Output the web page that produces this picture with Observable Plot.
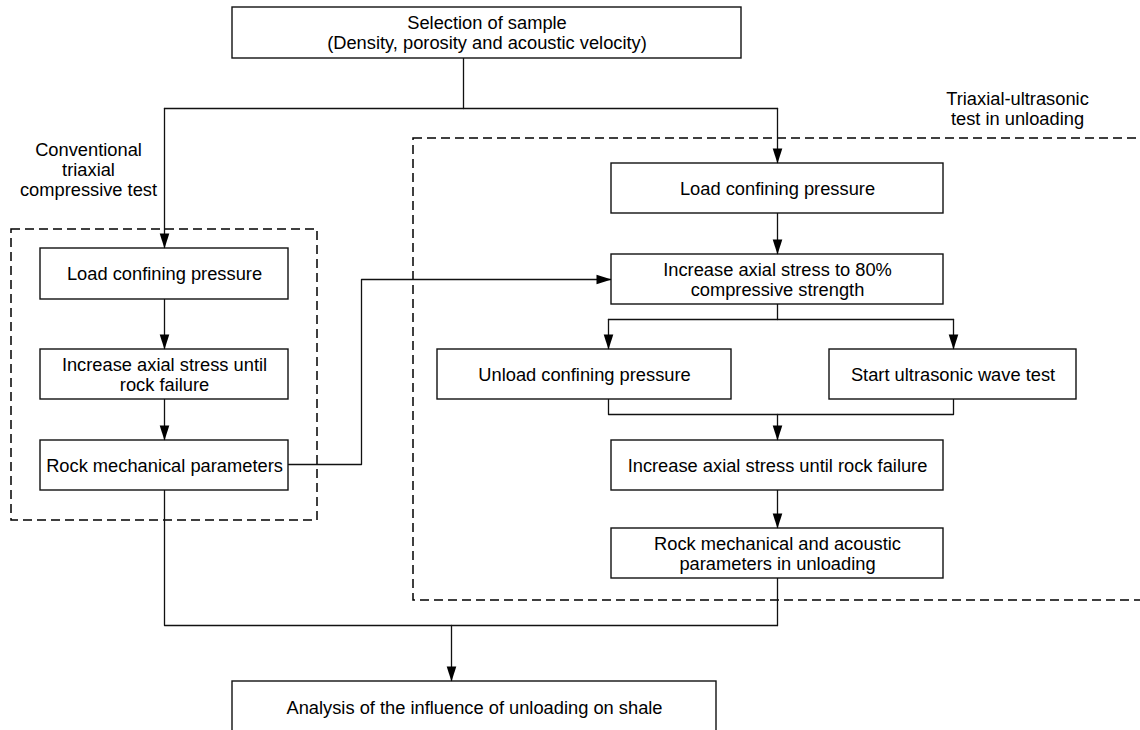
<!DOCTYPE html>
<html>
<head>
<meta charset="utf-8">
<script src="https://cdn.jsdelivr.net/npm/d3@7"></script>
<script src="https://cdn.jsdelivr.net/npm/@observablehq/plot@0.6"></script>
<style>
  html, body { margin: 0; padding: 0; background: white; }
  #chart svg { display: block; }
</style>
</head>
<body>
<div id="chart"></div>
<script>
// Box labels (id -> text)
const boxIds = ["sample", "cLoad", "cAxial", "cParams", "uLoad", "uAxial80", "uUnload", "uWave", "uAxial", "uParams", "analysis"];
const boxLabels = [
  "Selection of sample\n(Density, porosity and acoustic velocity)",
  "Load confining pressure",
  "Increase axial stress until\nrock failure",
  "Rock mechanical parameters",
  "Load confining pressure",
  "Increase axial stress to 80%\ncompressive strength",
  "Unload confining pressure",
  "Start ultrasonic wave test",
  "Increase axial stress until rock failure",
  "Rock mechanical and acoustic\nparameters in unloading",
  "Analysis of the influence of unloading on shale"
];
const groupLabels = ["Conventional\ntriaxial\ncompressive test", "Triaxial-ultrasonic\ntest in unloading"];

// Layout, in page pixels: [x1, x2, y1, y2]
const boxLayout = {
  sample:   [232, 741, 7, 58],
  cLoad:    [40, 288, 248, 299],
  cAxial:   [40, 288, 349, 399],
  cParams:  [40, 288, 440, 490],
  uLoad:    [611, 943, 163, 213],
  uAxial80: [611, 943, 254, 304],
  uUnload:  [437, 731, 349, 399],
  uWave:    [829, 1076, 349, 399],
  uAxial:   [611, 943, 440, 490],
  uParams:  [611, 943, 528, 578],
  analysis: [232, 716, 681, 760]
};
const textY = {analysis: 707};
const groupLayout = [[11, 317, 229, 520], [413, 1170, 138, 600]];
const groupTextPos = [[88, 169], [1017, 108]];

// Connectors: polylines, arrow at the last point when flagged
const connectors = [
  {pts: [[463, 58], [463, 108]], arrow: false},
  {pts: [[164, 108], [777, 108]], arrow: false},
  {pts: [[164, 108], [164, 248]], arrow: true},
  {pts: [[777, 108], [777, 163]], arrow: true},
  {pts: [[164, 299], [164, 349]], arrow: true},
  {pts: [[164, 399], [164, 440]], arrow: true},
  {pts: [[288, 464], [361, 464], [361, 279], [611, 279]], arrow: true},
  {pts: [[777, 213], [777, 254]], arrow: true},
  {pts: [[777, 304], [777, 319]], arrow: false},
  {pts: [[608, 319], [953, 319]], arrow: false},
  {pts: [[608, 319], [608, 349]], arrow: true},
  {pts: [[953, 319], [953, 349]], arrow: true},
  {pts: [[608, 399], [608, 414], [953, 414], [953, 399]], arrow: false},
  {pts: [[777, 414], [777, 440]], arrow: true},
  {pts: [[777, 490], [777, 528]], arrow: true},
  {pts: [[777, 578], [777, 625]], arrow: false},
  {pts: [[164, 490], [164, 625], [777, 625]], arrow: false},
  {pts: [[451, 625], [451, 681]], arrow: true}
];

const boxes = boxIds.map((id, i) => {
  const [x1, x2, y1, y2] = boxLayout[id];
  return {id, label: boxLabels[i], x1, x2, y1, y2, cx: (x1 + x2) / 2, cy: textY[id] ?? (y1 + y2) / 2};
});
const groups = groupLabels.map((label, i) => {
  const [x1, x2, y1, y2] = groupLayout[i];
  return {label, x1, x2, y1, y2, tx: groupTextPos[i][0], ty: groupTextPos[i][1]};
});
const segs = connectors.flatMap((c, i) => c.pts.map(([x, y]) => ({i, x, y})));
const heads = connectors.filter(c => c.arrow).map(c => {
  const [x0, y0] = c.pts[c.pts.length - 2];
  const [x, y] = c.pts[c.pts.length - 1];
  const angle = x > x0 ? -90 : x < x0 ? 90 : (y > y0 ? 0 : 180);
  return {x, y, angle};
});

// filled, elongated arrow head with its tip on the point
const arrowHead = {
  draw(context) {
    context.moveTo(0, 0);
    context.lineTo(-4.8, -15);
    context.lineTo(4.8, -15);
    context.closePath();
  }
};

const ink = "#111";
const plot = Plot.plot({
  width: 1140,
  height: 730,
  margin: 0,
  x: {domain: [0, 1140], range: [0, 1140], axis: null},
  y: {domain: [0, 730], range: [0, 730], axis: null},
  style: {fontFamily: "'Liberation Sans', Arial, sans-serif", background: "white"},
  marks: [
    Plot.rect(groups, {x1: "x1", x2: "x2", y1: "y1", y2: "y2", fill: "none", stroke: "black", strokeWidth: 1.5, strokeDasharray: "9,5", clip: true}),
    Plot.line(segs, {x: "x", y: "y", z: "i", stroke: ink, strokeWidth: 1.3}),
    Plot.rect(boxes, {x1: "x1", x2: "x2", y1: "y1", y2: "y2", fill: "white", stroke: ink, strokeWidth: 1.4, clip: true}),
    Plot.dot(heads, {x: "x", y: "y", rotate: "angle", symbol: arrowHead, fill: "black", stroke: "none"}),
    Plot.text(boxes, {x: "cx", y: "cy", text: "label", fontSize: 18.3, lineHeight: 1.09, lineAnchor: "middle", fill: "black"}),
    Plot.text(groups, {x: "tx", y: "ty", text: "label", fontSize: 18.3, lineHeight: 1.09, lineAnchor: "middle", fill: "black"})
  ]
});
document.getElementById("chart").appendChild(plot);
</script>
</body>
</html>
